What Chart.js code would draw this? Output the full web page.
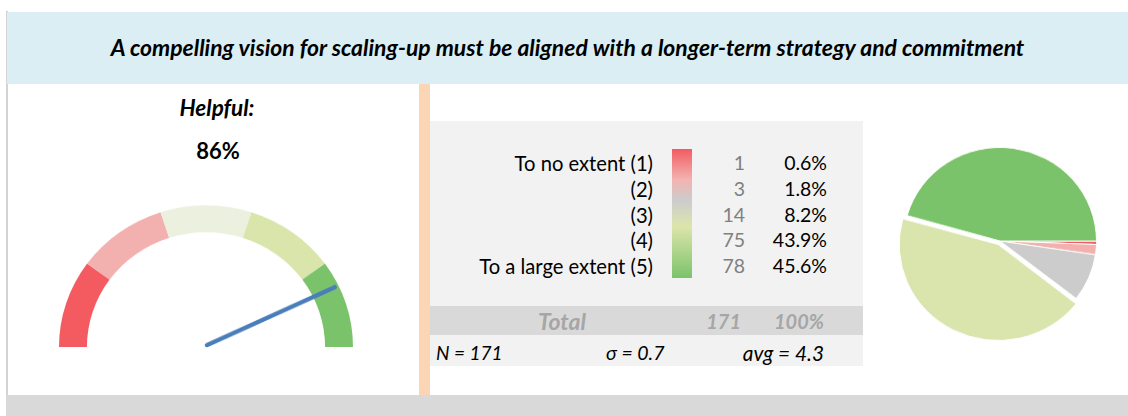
<!DOCTYPE html>
<html>
<head>
<meta charset="utf-8">
<script src="https://cdn.jsdelivr.net/npm/chart.js@4/dist/chart.umd.min.js"></script>
<style>
  body { margin: 0; width: 1128px; height: 416px; position: relative; overflow: hidden; background: #fff; font-family: Lato, 'Noto Sans', sans-serif; }
  .box { position: absolute; }
  .txt { position: absolute; white-space: nowrap; line-height: 26px; }
</style>
</head>
<body>
<div class="box" style="left:6px;top:11px;width:2px;height:384px;background:#d4d4d4"></div>
<div class="box" style="left:7px;top:12px;width:1121px;height:72px;background:#daeef3"></div>
<div class="box" style="left:6px;top:395px;width:1122px;height:21px;background:#d9d9d9"></div>
<div class="box" style="left:419px;top:84px;width:11px;height:311px;background:#fcd5b4"></div>
<div class="box" style="left:430px;top:121px;width:433px;height:245px;background:#f2f2f2"></div>
<div class="box" style="left:430px;top:306px;width:433px;height:29px;background:#d9d9d9"></div>
<div class="box" style="left:672px;top:149px;width:20px;height:129px;background:linear-gradient(#f25c62 0%, #f2b4b2 24%, #cccccc 40%, #dde5ab 60%, #7bc36a 100%)"></div>

<div class="txt" id="title" style="left:7px;width:1121px;top:34px;text-align:center;font-weight:bold;font-style:italic;font-size:22.9px"></div>
<div class="txt" id="gaugeTitle" style="left:117px;width:200px;top:95px;text-align:center;font-weight:bold;font-style:italic;font-size:22.5px"></div>
<div class="txt" id="gaugeValue" style="left:118px;width:200px;top:138px;text-align:center;font-weight:bold;font-size:22px"></div>
<div id="rows"></div>

<div class="box" style="left:7px;top:84px;width:411px;height:311px;transform:scaleY(0.964);transform-origin:199px 263px">
  <canvas id="gauge"></canvas>
</div>
<div class="box" style="left:895px;top:136px;width:210px;height:210px;transform:scaleY(0.97)">
  <canvas id="pie"></canvas>
</div>

<script>
const titleText = 'A compelling vision for scaling-up must be aligned with a longer-term strategy and commitment';
const gaugeLabel = 'Helpful:';
const helpfulShare = 86;

const gaugeBands = [20, 20, 20, 20, 20];
const gaugeColors = ['#f45b61', '#f2b1af', '#ebf0df', '#d9e5ab', '#7ac36a'];

const categories = ['To no extent (1)', '(2)', '(3)', '(4)', 'To a large extent (5)'];
const counts = [1, 3, 14, 75, 78];
const percentLabels = ['0.6%', '1.8%', '8.2%', '43.9%', '45.6%'];
const pieColors = ['#f25c62', '#f2b0ae', '#cccccc', '#dae5ad', '#7ac36a'];
const pieOffsets = [0, 0, 0, 16, 0];

const totalCount = 171;
const totalPercent = '100%';
const statN = 'N = 171';
const statSigma = 'σ = 0.7';
const statAvg = 'avg = 4.3';

document.getElementById('title').textContent = titleText;
document.getElementById('gaugeTitle').textContent = gaugeLabel;
document.getElementById('gaugeValue').textContent = helpfulShare + '%';

// table text
const rows = document.getElementById('rows');
function addText(text, css) {
   const d = document.createElement('div');
   d.className = 'txt';
   d.textContent = text;
   d.style.cssText = css;
   rows.appendChild(d);
}
categories.forEach((cat, i) => {
   const top = 150 + i * 25.8;
   addText(cat, `right:${1128 - 653}px;top:${top}px;font-size:20.2px;color:#000`);
   addText(counts[i], `right:${1128 - 745}px;top:${top}px;font-size:19.5px;color:#808080`);
   addText(percentLabels[i], `right:${1128 - 827}px;top:${top}px;font-size:19.5px;color:#000`);
});
const tStyle = 'font-weight:bold;font-style:italic;color:#a6a6a6;top:308px;';
addText('Total', tStyle + 'font-size:23px;left:512px;width:100px;text-align:center');
addText(totalCount, tStyle + `font-size:20px;right:${1128 - 741}px`);
addText(totalPercent, tStyle + `font-size:20px;right:${1128 - 824}px`);
const nStyle = 'font-style:italic;color:#000;top:340px;';
addText(statN, nStyle + 'font-size:19px;left:436px');
addText(statSigma, nStyle + 'font-size:19.5px;left:606px');
addText(statAvg, nStyle + `font-size:20.8px;right:${1128 - 824}px`);

// needle drawn from the gauge arcs
const needlePlugin = {
   id: 'needle',
   afterDatasetsDraw(chart) {
      const arcs = chart.getDatasetMeta(0).data;
      const first = arcs[0].getProps(['x', 'y', 'startAngle', 'outerRadius'], true);
      const last = arcs[arcs.length - 1].getProps(['endAngle'], true);
      const angle = first.startAngle + (last.endAngle - first.startAngle) * helpfulShare / 100;
      const len = first.outerRadius * 0.96;
      const ctx = chart.ctx;
      ctx.save();
      ctx.strokeStyle = '#4a7ebb';
      ctx.lineWidth = 4.5;
      ctx.lineCap = 'round';
      ctx.beginPath();
      ctx.moveTo(first.x + 1, first.y - 2);
      ctx.lineTo(first.x + 1 + Math.cos(angle) * len, first.y - 2 + Math.sin(angle) * len);
      ctx.stroke();
      ctx.restore();
   }
};

new Chart(document.getElementById('gauge'), {
   type: 'doughnut',
   data: {
      datasets: [{
         data: gaugeBands,
         backgroundColor: gaugeColors,
         borderWidth: 0
      }]
   },
   options: {
      responsive: true,
      maintainAspectRatio: false,
      animation: false,
      rotation: -90,
      circumference: 180,
      cutout: '81%',
      layout: { padding: { left: 52, right: 65, top: 116, bottom: 48 } },
      plugins: { legend: { display: false }, tooltip: { enabled: false } }
   },
   plugins: [needlePlugin]
});

new Chart(document.getElementById('pie'), {
   type: 'pie',
   data: {
      labels: categories,
      datasets: [{
         data: counts,
         backgroundColor: pieColors,
         borderColor: '#ffffff',
         borderWidth: 1,
         offset: pieOffsets
      }]
   },
   options: {
      responsive: true,
      maintainAspectRatio: false,
      animation: false,
      rotation: 90,
      layout: { padding: 0 },
      plugins: { legend: { display: false }, tooltip: { enabled: false } }
   }
});
</script>
</body>
</html>
